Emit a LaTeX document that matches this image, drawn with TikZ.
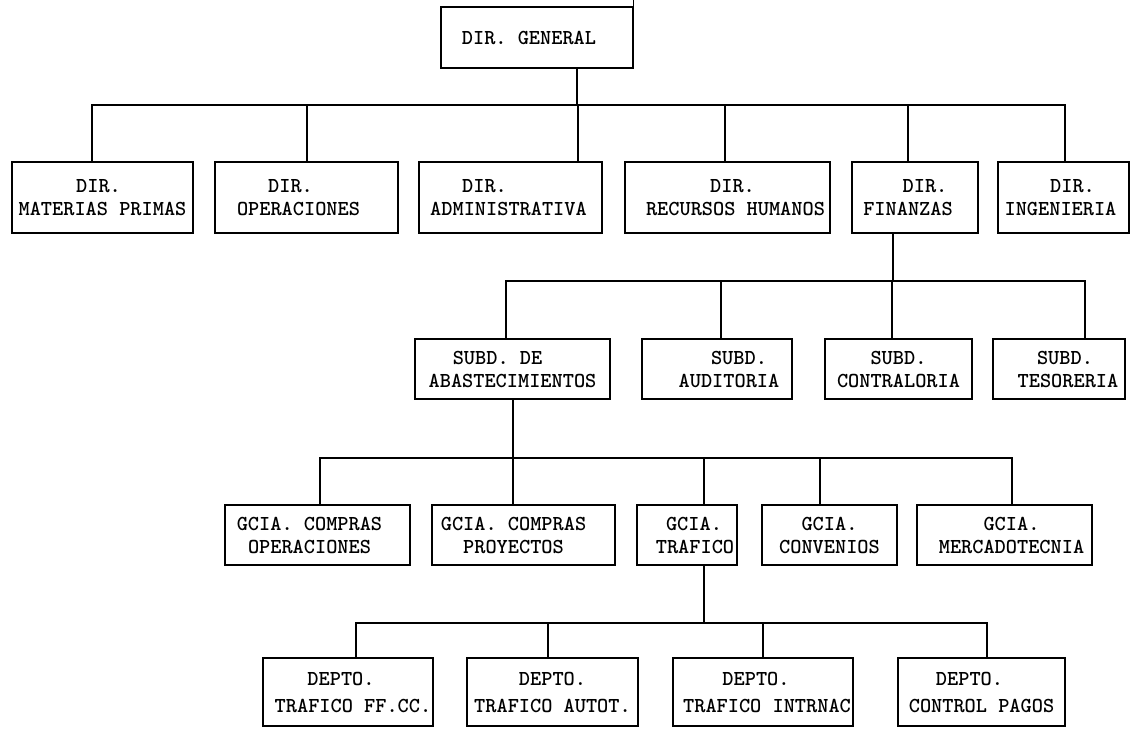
\documentclass[tikz,border=0pt]{standalone}
\usepackage{fontspec}
\newfontfamily\tw{lmmonolt10-bold.otf}
\newcommand\lnx[2]{\hspace*{#1pt}#2\hspace*{-#1pt}}
\begin{document}
\begin{tikzpicture}[x=1pt,y=-1pt,line width=1.3pt,
  box/.style={draw,inner sep=0pt,align=center,font=\tw\fontsize{21.3}{23}\selectfont},
  r1/.style={box,minimum height=71pt},
  r2/.style={box,minimum height=60pt},
  r3/.style={box,minimum height=60pt},
  r4/.style={box,minimum height=68pt,font=\tw\fontsize{21.3}{27}\selectfont}]
\useasboundingbox (0,0) rectangle (1134,729);
\coordinate (gtop) at (0,0);
% level 0
\node[box,minimum width=192pt,minimum height=61pt] (gen) at (537,37.5) {\lnx{-8}{DIR. GENERAL}};
% level 1
\node[r1,minimum width=181pt] (mp)  at (102.5,197.5) {\lnx{-4}{DIR.}\\MATERIAS PRIMAS};
\node[r1,minimum width=183pt] (op)  at (306.5,197.5) {\lnx{-16}{DIR.}\\\lnx{-8}{OPERACIONES}};
\node[r1,minimum width=183pt] (adm) at (510.5,197.5) {\lnx{-26}{DIR.}\\\lnx{-2}{ADMINISTRATIVA}};
\node[r1,minimum width=205pt] (rh)  at (727.5,197.5) {\lnx{5}{DIR.}\\\lnx{8}{RECURSOS HUMANOS}};
\node[r1,minimum width=126pt] (fin) at (915,197.5)   {\lnx{10}{DIR.}\\\lnx{-7}{FINANZAS}};
\node[r1,minimum width=131pt] (ing) at (1063.5,197.5){\lnx{9}{DIR.}\\\lnx{-3}{INGENIERIA}};
% level 2
\node[r2,minimum width=195pt] (abs) at (512.5,369) {\lnx{-15}{SUBD. DE}\\ABASTECIMIENTOS};
\node[r2,minimum width=150pt] (aud) at (717,369)   {\lnx{22}{SUBD.}\\\lnx{12}{AUDITORIA}};
\node[r2,minimum width=147pt] (con) at (898.5,369) {SUBD.\\CONTRALORIA};
\node[r2,minimum width=132pt] (tes) at (1059,369)  {\lnx{6}{SUBD.}\\\lnx{9}{TESORERIA}};
% level 3
\node[r3,minimum width=185pt] (gco) at (317.5,535) {\lnx{-8}{GCIA. COMPRAS}\\\lnx{-8}{OPERACIONES}};
\node[r3,minimum width=183pt] (gcp) at (523.5,535) {\lnx{-10}{GCIA. COMPRAS}\\\lnx{-10}{PROYECTOS}};
\node[r3,minimum width=100pt] (gtr) at (687,535)   {\lnx{7}{GCIA.}\\\lnx{8}{TRAFICO}};
\node[r3,minimum width=135pt] (gcv) at (829.5,535) {GCIA.\\CONVENIOS};
\node[r3,minimum width=175pt] (gmk) at (1004.5,535){\lnx{7}{GCIA.}\\\lnx{7}{MERCADOTECNIA}};
% level 4
\node[r4,minimum width=170pt] (dff) at (348,692)   {\lnx{-7}{DEPTO.}\\\lnx{5}{TRAFICO FF.CC.}};
\node[r4,minimum width=171pt] (dau) at (552.5,692) {DEPTO.\\TRAFICO AUTOT.};
\node[r4,minimum width=180pt] (din) at (763,692)   {\lnx{-7}{DEPTO.}\\\lnx{4}{TRAFICO INTRNAC}};
\node[r4,minimum width=167pt] (dcp) at (981.5,692) {\lnx{-12}{DEPTO.}\\CONTROL PAGOS};
% stray edge above the top box
\draw (gen.north east) -- (gen.north east |- gtop);
% bus 1
\coordinate (b1g) at (577,105);
\coordinate (b1a) at (92,105);  \coordinate (b1b) at (307,105);
\coordinate (b1c) at (578,105); \coordinate (b1d) at (725,105);
\coordinate (b1e) at (908,105); \coordinate (b1f) at (1065,105);
\draw (gen.south -| b1g) -- (b1g);
\draw (mp.north -| b1a) -- (b1a) -- (b1f) -- (ing.north -| b1f);
\foreach \n/\c in {op/b1b,adm/b1c,rh/b1d,fin/b1e} \draw (\n.north -| \c) -- (\c);
% bus 2
\coordinate (b2j) at (893,281);
\coordinate (b2a) at (506,281); \coordinate (b2b) at (721,281);
\coordinate (b2c) at (892,281); \coordinate (b2d) at (1085,281);
\draw (fin.south -| b2j) -- (b2j);
\draw (abs.north -| b2a) -- (b2a) -- (b2d) -- (tes.north -| b2d);
\foreach \n/\c in {aud/b2b,con/b2c} \draw (\n.north -| \c) -- (\c);
% bus 3
\coordinate (b3j) at (513,458);
\coordinate (b3a) at (320,458); \coordinate (b3b) at (513,458);
\coordinate (b3c) at (704,458); \coordinate (b3d) at (820,458);
\coordinate (b3e) at (1012,458);
\draw (abs.south -| b3j) -- (b3j);
\draw (gco.north -| b3a) -- (b3a) -- (b3e) -- (gmk.north -| b3e);
\foreach \n/\c in {gcp/b3b,gtr/b3c,gcv/b3d} \draw (\n.north -| \c) -- (\c);
% bus 4
\coordinate (b4j) at (704,623);
\coordinate (b4a) at (356,623); \coordinate (b4b) at (548,623);
\coordinate (b4c) at (763,623); \coordinate (b4d) at (987,623);
\draw (gtr.south -| b4j) -- (b4j);
\draw (dff.north -| b4a) -- (b4a) -- (b4d) -- (dcp.north -| b4d);
\foreach \n/\c in {dau/b4b,din/b4c} \draw (\n.north -| \c) -- (\c);
\end{tikzpicture}
\end{document}
